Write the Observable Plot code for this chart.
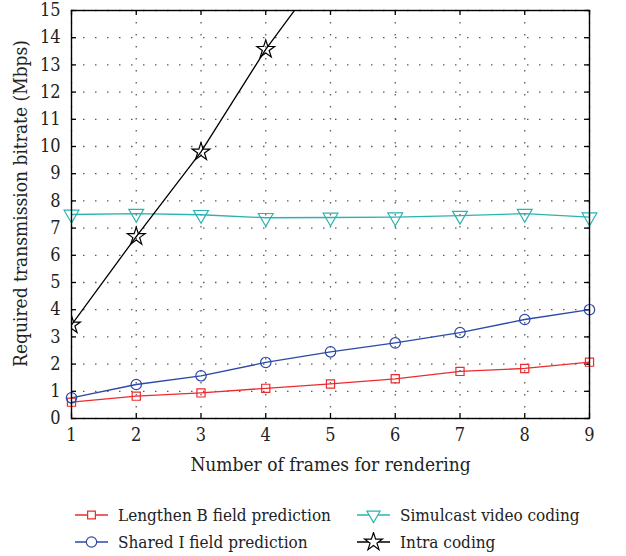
<!DOCTYPE html>
<html>
<head>
<meta charset="utf-8">
<script src="https://cdn.jsdelivr.net/npm/d3@7"></script>
<script src="https://cdn.jsdelivr.net/npm/@observablehq/plot@0.6"></script>
<style>
  body { margin: 0; background: #fff; font-family: 'DejaVu Serif', serif; font-stretch: condensed; }
  svg text { font-stretch: condensed; }
  #legend { position: relative; width: 626px; height: 66px; font-size: 17px; color: #222; }
  .item { position: absolute; display: flex; align-items: center; height: 26px; }
  .item svg { margin-right: 10px; }
</style>
</head>
<body>
<div id="chart"></div>
<div id="legend"></div>
<script>
const frames = [1, 2, 3, 4, 5, 6, 7, 8, 9];
const lengthenB = [0.60, 0.82, 0.94, 1.11, 1.27, 1.46, 1.73, 1.84, 2.07];
const sharedI = [0.76, 1.25, 1.57, 2.06, 2.45, 2.78, 3.16, 3.64, 4.00];
const simulcast = [7.50, 7.53, 7.49, 7.38, 7.39, 7.40, 7.46, 7.53, 7.40];
const intraFrames = [1, 2, 3, 4, 5];
const intra = [3.44, 6.69, 9.80, 13.57, 16.8];
const xTicks = [1, 2, 3, 4, 5, 6, 7, 8, 9];
const yTicks = [0, 1, 2, 3, 4, 5, 6, 7, 8, 9, 10, 11, 12, 13, 14, 15];
const xLabel = "Number of frames for rendering";
const yLabel = "Required transmission bitrate (Mbps)";

const seriesNames = ["Lengthen B field prediction", "Shared I field prediction", "Simulcast video coding", "Intra coding"];
const colors = ["#ee2a2e", "#2d48a6", "#2ab4ae", "#000000"];

const toRows = (xs, ys) => xs.map((x, i) => ({x, y: ys[i]}));
const rB = toRows(frames, lengthenB);
const rI = toRows(frames, sharedI);
const rS = toRows(frames, simulcast);
const rX = toRows(intraFrames, intra);

const W = 626, H = 490, mt = 10, mb = 72, ml = 71, mr = 37;
const innerH = H - mt - mb;
const innerW = W - ml - mr;
const tick = 5;
const FONT = "'DejaVu Serif', serif";

const chart = Plot.plot({
  width: W, height: H,
  marginTop: mt, marginBottom: mb, marginLeft: ml, marginRight: mr,
  style: {fontFamily: FONT, fontSize: "18px", color: "#222", background: "#fff"},
  x: {domain: [1, 9]},
  y: {domain: [0, 15]},
  marks: [
    Plot.gridX(xTicks, {stroke: "#333", strokeOpacity: 0.8, strokeDasharray: "1.5,10.5", strokeWidth: 1.3}),
    Plot.gridY(yTicks, {stroke: "#333", strokeOpacity: 0.8, strokeDasharray: "1.5,10.5", strokeWidth: 1.3}),
    Plot.tickX(xTicks, {x: d => d, stroke: "#000", strokeWidth: 1.3, insetTop: innerH - tick}),
    Plot.tickX(xTicks, {x: d => d, stroke: "#000", strokeWidth: 1.3, insetBottom: innerH - tick}),
    Plot.tickY(yTicks, {y: d => d, stroke: "#000", strokeWidth: 1.3, insetRight: innerW - tick}),
    Plot.tickY(yTicks, {y: d => d, stroke: "#000", strokeWidth: 1.3, insetLeft: innerW - tick}),
    Plot.axisX(xTicks, {tickSize: 0, tickPadding: 10, fontSize: 18, label: null}),
    Plot.axisY(yTicks, {tickSize: 0, tickPadding: 11, fontSize: 18, label: null}),
    Plot.text([xLabel], {frameAnchor: "bottom", textAnchor: "middle", text: d => d, dy: 52, fontSize: 19, fill: "#222"}),
    Plot.text([yLabel], {frameAnchor: "left", textAnchor: "middle", text: d => d, rotate: -90, dx: -51, dy: -11, fontSize: 19, fill: "#222"}),
    Plot.line(rB, {x: "x", y: "y", stroke: colors[0], strokeWidth: 1.3}),
    Plot.line(rI, {x: "x", y: "y", stroke: colors[1], strokeWidth: 1.3}),
    Plot.line(rS, {x: "x", y: "y", stroke: colors[2], strokeWidth: 1.3}),
    Plot.line(rX, {x: "x", y: "y", stroke: colors[3], strokeWidth: 1.3, clip: true}),
    Plot.dot(rB, {x: "x", y: "y", symbol: "square", r: 4.6, stroke: colors[0], fill: "none", strokeWidth: 1.2}),
    Plot.dot(rI, {x: "x", y: "y", symbol: "circle", r: 5.2, stroke: colors[1], fill: "none", strokeWidth: 1.2}),
    Plot.dot(rS, {x: "x", y: "y", symbol: "triangle", r: 5.5, rotate: 180, stroke: colors[2], fill: "none", strokeWidth: 1.2}),
    Plot.dot(rX, {x: "x", y: "y", symbol: "star", r: 5.6, stroke: colors[3], fill: "none", strokeWidth: 1.2, clip: true}),
    Plot.frame({stroke: "#000", strokeWidth: 1.4})
  ]
});
document.getElementById("chart").appendChild(chart);

// Legend
const symbolTypes = [d3.symbolSquare, d3.symbolCircle, d3.symbolTriangle, d3.symbolStar];
const positions = [[75, 25], [75, 52], [357, 25], [357, 52]];
const sizes = [60, 85, 75, 100];
const legend = d3.select("#legend");
seriesNames.forEach((name, i) => {
  const item = legend.append("div").attr("class", "item")
    .style("left", positions[i][0] + "px").style("top", (positions[i][1] - 13) + "px");
  const svg = item.append("svg").attr("width", 33).attr("height", 20);
  svg.append("line").attr("x1", 0).attr("x2", 33).attr("y1", 10).attr("y2", 10)
    .attr("stroke", colors[i]).attr("stroke-width", 1.3);
  svg.append("path")
    .attr("d", d3.symbol().type(symbolTypes[i]).size(sizes[i])())
    .attr("transform", `translate(16.5,10)${i === 2 ? " rotate(180)" : ""}`)
    .attr("fill", "#fff").attr("stroke", colors[i]).attr("stroke-width", 1.2);
  item.append("span").text(name);
});
</script>
</body>
</html>
